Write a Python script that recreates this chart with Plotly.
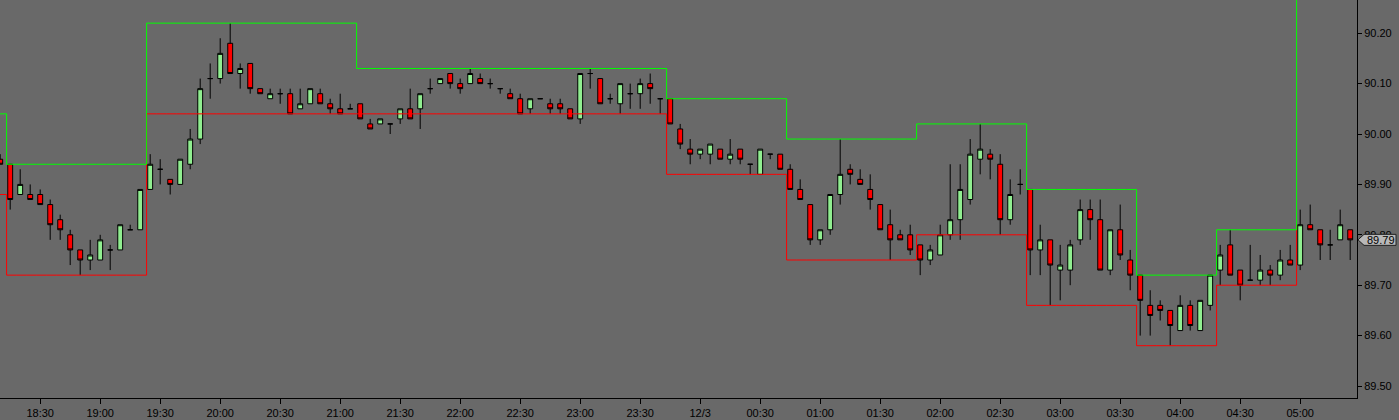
import plotly.graph_objects as go
import pandas as pd

# ---------------- data ----------------
bar_start = "2019-12-02 18:10"   # first (partial) 5-minute bar
bar_freq = "5min"

opens = [89.95, 89.94, 89.88, 89.88, 89.88, 89.86, 89.83, 89.80, 89.77, 89.75,
         89.75, 89.77, 89.77, 89.81, 89.81, 89.89, 89.93, 89.91, 89.90, 89.94,
         89.99, 90.11, 90.11, 90.18, 90.12, 90.14, 90.09, 90.07, 90.08, 90.08,
         90.05, 90.06, 90.08, 90.06, 90.05, 90.05, 90.06, 90.02, 90.02, 90.02,
         90.03, 90.05, 90.05, 90.09, 90.10, 90.12, 90.10, 90.10, 90.11, 90.10,
         90.09, 90.08, 90.07, 90.05, 90.07, 90.06, 90.06, 90.05, 90.03, 90.12,
         90.11, 90.07, 90.06, 90.08, 90.08, 90.10, 90.07, 90.07, 90.01, 89.97,
         89.96, 89.96, 89.97, 89.95, 89.97, 89.94, 89.92, 89.96, 89.96, 89.93,
         89.89, 89.86, 89.79, 89.81, 89.88, 89.93, 89.91, 89.89, 89.86, 89.82,
         89.80, 89.80, 89.78, 89.75, 89.76, 89.80, 89.83, 89.87, 89.95, 89.96,
         89.94, 89.83, 89.90, 89.89, 89.77, 89.79, 89.73, 89.73, 89.79, 89.85,
         89.83, 89.73, 89.81, 89.75, 89.72, 89.66, 89.66, 89.65, 89.61, 89.66,
         89.61, 89.66, 89.73, 89.78, 89.73, 89.71, 89.71, 89.73, 89.72, 89.75,
         89.74, 89.82, 89.81, 89.78, 89.79, 89.81]
highs = [89.96, 89.94, 89.93, 89.90, 89.89, 89.87, 89.84, 89.81, 89.77, 89.79,
         89.80, 89.78, 89.82, 89.82, 89.89, 89.96, 89.95, 89.91, 89.95, 90.01,
         90.11, 90.14, 90.19, 90.22, 90.14, 90.14, 90.09, 90.09, 90.09, 90.09,
         90.09, 90.09, 90.09, 90.07, 90.08, 90.06, 90.06, 90.03, 90.03, 90.02,
         90.05, 90.09, 90.08, 90.11, 90.11, 90.12, 90.11, 90.13, 90.12, 90.11,
         90.09, 90.09, 90.08, 90.07, 90.07, 90.07, 90.07, 90.05, 90.12, 90.13,
         90.11, 90.08, 90.10, 90.10, 90.11, 90.12, 90.07, 90.07, 90.02, 89.99,
         89.97, 89.98, 89.97, 89.99, 89.97, 89.94, 89.97, 89.96, 89.96, 89.94,
         89.91, 89.86, 89.81, 89.88, 89.99, 89.94, 89.93, 89.92, 89.86, 89.85,
         89.81, 89.82, 89.78, 89.78, 89.82, 89.94, 89.94, 89.99, 90.02, 89.97,
         89.96, 89.91, 89.93, 89.89, 89.82, 89.79, 89.78, 89.79, 89.87, 89.87,
         89.87, 89.81, 89.86, 89.77, 89.72, 89.69, 89.67, 89.65, 89.68, 89.67,
         89.67, 89.72, 89.78, 89.81, 89.73, 89.78, 89.76, 89.74, 89.77, 89.78,
         89.85, 89.86, 89.81, 89.81, 89.85, 89.81]
lows = [89.94, 89.85, 89.88, 89.87, 89.86, 89.79, 89.79, 89.74, 89.72, 89.73,
        89.75, 89.73, 89.77, 89.81, 89.81, 89.89, 89.90, 89.88, 89.90, 89.93,
        89.98, 90.07, 90.10, 90.12, 90.09, 90.08, 90.08, 90.07, 90.06, 90.04,
        90.05, 90.06, 90.06, 90.04, 90.04, 90.05, 90.03, 90.01, 90.02, 90.00,
        90.02, 90.03, 90.01, 90.08, 90.10, 90.09, 90.08, 90.10, 90.10, 90.09,
        90.08, 90.07, 90.04, 90.04, 90.07, 90.04, 90.04, 90.03, 90.02, 90.09,
        90.06, 90.06, 90.04, 90.05, 90.05, 90.06, 90.04, 90.02, 89.97, 89.94,
        89.95, 89.94, 89.95, 89.94, 89.94, 89.92, 89.92, 89.95, 89.93, 89.89,
        89.87, 89.78, 89.78, 89.80, 89.86, 89.90, 89.90, 89.85, 89.81, 89.75,
        89.79, 89.76, 89.72, 89.74, 89.76, 89.79, 89.79, 89.86, 89.92, 89.91,
        89.80, 89.82, 89.88, 89.72, 89.72, 89.66, 89.67, 89.70, 89.78, 89.79,
        89.73, 89.72, 89.75, 89.69, 89.60, 89.60, 89.63, 89.58, 89.61, 89.61,
        89.61, 89.65, 89.70, 89.72, 89.67, 89.71, 89.70, 89.70, 89.71, 89.74,
        89.73, 89.81, 89.75, 89.75, 89.79, 89.75]
closes = [89.94, 89.87, 89.90, 89.87, 89.86, 89.82, 89.81, 89.77, 89.75, 89.76,
          89.79, 89.77, 89.82, 89.81, 89.89, 89.94, 89.93, 89.90, 89.95, 89.99,
          90.09, 90.11, 90.16, 90.12, 90.13, 90.09, 90.08, 90.08, 90.08, 90.04,
          90.06, 90.09, 90.06, 90.05, 90.04, 90.05, 90.03, 90.01, 90.03, 90.02,
          90.05, 90.03, 90.08, 90.09, 90.11, 90.10, 90.09, 90.12, 90.10, 90.10,
          90.09, 90.07, 90.04, 90.07, 90.07, 90.05, 90.05, 90.03, 90.12, 90.12,
          90.06, 90.07, 90.10, 90.08, 90.10, 90.09, 90.07, 90.02, 89.98, 89.96,
          89.97, 89.98, 89.95, 89.96, 89.95, 89.94, 89.97, 89.96, 89.93, 89.89,
          89.87, 89.79, 89.81, 89.88, 89.92, 89.92, 89.90, 89.87, 89.81, 89.79,
          89.79, 89.77, 89.75, 89.77, 89.80, 89.83, 89.89, 89.96, 89.97, 89.95,
          89.83, 89.88, 89.90, 89.77, 89.79, 89.74, 89.74, 89.78, 89.85, 89.83,
          89.73, 89.81, 89.76, 89.72, 89.67, 89.64, 89.65, 89.62, 89.66, 89.62,
          89.67, 89.72, 89.76, 89.72, 89.70, 89.71, 89.73, 89.72, 89.75, 89.74,
          89.82, 89.81, 89.78, 89.78, 89.82, 89.79]

# range boxes: first bar of each box, its upper and lower level
box_start_bar = [0, 1, 15, 36, 67, 79, 92, 103, 114, 122, 130]
box_upper = [90.04, 89.94, 90.22, 90.13, 90.07, 89.99, 90.02, 89.89, 89.72, 89.81, 90.50]
box_lower = [89.88, 89.72, 90.04, 90.04, 89.92, 89.75, 89.80, 89.66, 89.58, 89.70, 89.82]
box_last_bar = 130

tick_labels = ["18:30", "19:00", "19:30", "20:00", "20:30", "21:00", "21:30",
               "22:00", "22:30", "23:00", "23:30", "12/3", "00:30", "01:00",
               "01:30", "02:00", "02:30", "03:00", "03:30", "04:00", "04:30",
               "05:00"]
tick_start = "2019-12-02 18:30"
price_ticks = [89.50, 89.60, 89.70, 89.80, 89.90, 90.00, 90.10, 90.20]

# ---------------- build ----------------
n = len(opens)
times = pd.date_range(bar_start, periods=n, freq=bar_freq)
tick_times = pd.date_range(tick_start, periods=len(tick_labels), freq="30min")

upper_line, lower_line = [], []
for i in range(n):
    if i > box_last_bar:
        upper_line.append(None)
        lower_line.append(None)
        continue
    j = max(k for k, s in enumerate(box_start_bar) if s <= i)
    upper_line.append(box_upper[j])
    lower_line.append(box_lower[j])
line_times = times - pd.Timedelta(seconds=108)

BG = "#696969"
y_range = [89.4762, 90.2659]
x_range = ["2019-12-02 18:09:54", "2019-12-03 05:28:24"]

fig = go.Figure()
fig.add_trace(go.Scatter(x=line_times, y=lower_line, mode="lines",
                         line=dict(color="#ff0000", width=1, shape="hv"),
                         hoverinfo="skip"))
fig.add_trace(go.Scatter(x=line_times, y=upper_line, mode="lines",
                         line=dict(color="#00ff00", width=1, shape="hv"),
                         hoverinfo="skip"))
fig.add_trace(go.Candlestick(
    x=times, open=opens, high=highs, low=lows, close=closes,
    increasing=dict(fillcolor="#90ee90", line=dict(color="#000000", width=1)),
    decreasing=dict(fillcolor="#ff0000", line=dict(color="#000000", width=1)),
    whiskerwidth=0,
))

fig.update_layout(
    width=1399, height=420,
    margin=dict(l=0, r=42, t=0, b=22),
    paper_bgcolor=BG, plot_bgcolor=BG,
    showlegend=False,
    boxgap=0.3, boxgroupgap=0.3,
    font=dict(family="Liberation Sans, Arial, sans-serif", size=11, color="#000000"),
)
fig.update_xaxes(
    type="date", range=x_range,
    tickmode="array", tickvals=tick_times, ticktext=tick_labels,
    showgrid=False, zeroline=False,
    showline=True, linecolor="#000000", linewidth=1,
    ticks="outside", ticklen=5, tickcolor="#000000",
    rangeslider=dict(visible=False),
    tickfont=dict(size=11, color="#000000"),
)
fig.update_yaxes(
    side="right", range=y_range,
    tickmode="array", tickvals=price_ticks,
    ticktext=[f"{v:.2f}" for v in price_ticks],
    showgrid=False, zeroline=False,
    showline=True, linecolor="#000000", linewidth=1,
    ticks="outside", ticklen=4, tickcolor="#000000",
    tickfont=dict(size=11, color="#000000"),
)

# last-price tag
plot_w, plot_h = 1357.0, 398.0
py = (closes[-1] - y_range[0]) / (y_range[1] - y_range[0])
tip, left, right, hh = 1 + 1 / plot_w, 1 + 7 / plot_w, 1 + 39 / plot_w, 5.5 / plot_h
fig.add_shape(type="path", xref="paper", yref="paper", layer="above",
              path=(f"M {tip},{py} L {left},{py + hh} L {right},{py + hh} "
                    f"L {right},{py - hh} L {left},{py - hh} Z"),
              fillcolor="#b8b8b8", line=dict(color="#202020", width=1))
fig.add_annotation(xref="paper", yref="paper", x=1 + 8 / plot_w, y=py,
                   xanchor="left", yanchor="middle", showarrow=False,
                   text=f"{closes[-1]:.2f}",
                   font=dict(size=11, color="#000000"))

fig.write_html("out.html",
               config={"displayModeBar": False},
               post_script="document.body.style.margin='0';document.body.style.overflow='hidden';")
